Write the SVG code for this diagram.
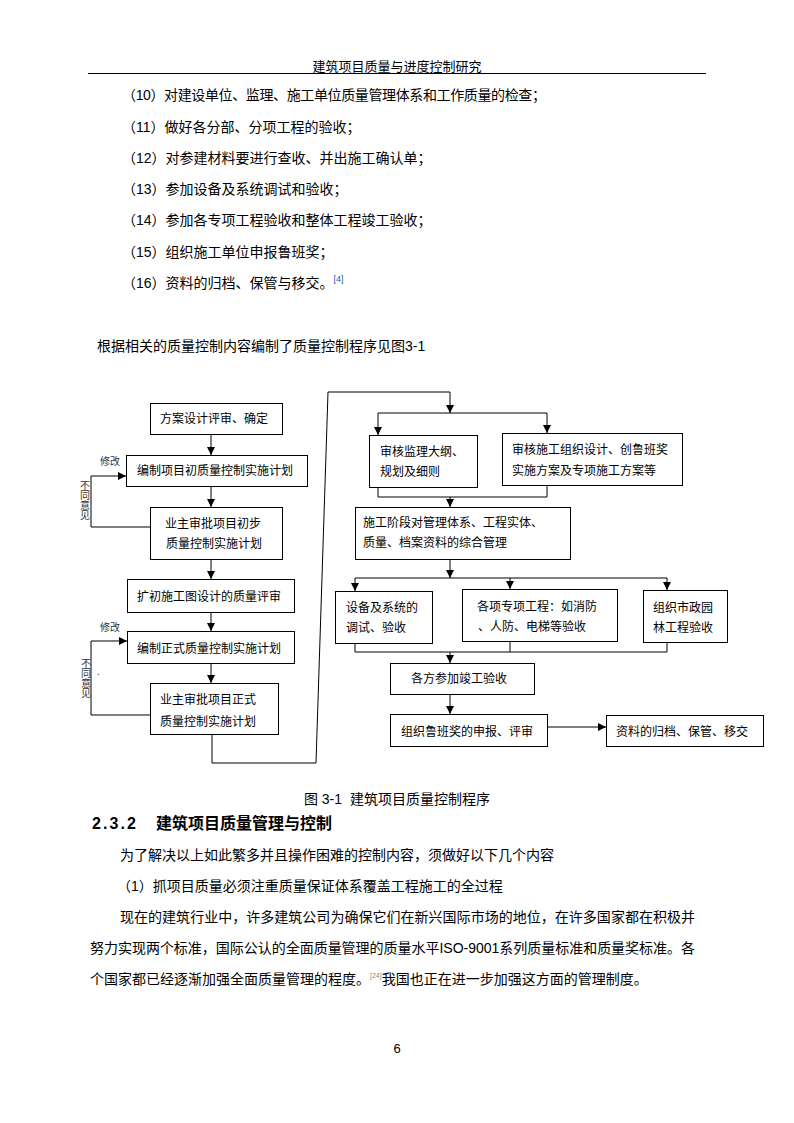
<svg xmlns="http://www.w3.org/2000/svg" width="794" height="1123" viewBox="0 0 794 1123">
<defs>
<style>
text{font-family:"Liberation Sans","Noto Sans CJK SC",sans-serif;fill:#000}
.b{font-size:14px}
.n{font-size:12px}
.s{font-size:10px;fill:#333}
.box{fill:#fff;stroke:#000;stroke-width:1}
.ln{fill:none;stroke:#000;stroke-width:1}
</style>
<marker id="ar" markerUnits="userSpaceOnUse" markerWidth="10" markerHeight="10" refX="8" refY="4" orient="auto">
<path d="M0,0 L8,4 L0,8 Z" fill="#000"/>
</marker>
</defs>
<rect width="794" height="1123" fill="#fff"/>
<text x="397" y="71" font-size="13" text-anchor="middle">建筑项目质量与进度控制研究</text>
<line x1="88" y1="73.5" x2="706" y2="73.5" stroke="#000" stroke-width="1"/>
<text class="b" x="122" y="100" textLength="424">（10）对建设单位、监理、施工单位质量管理体系和工作质量的检查；</text>
<text class="b" x="122" y="132">（11）做好各分部、分项工程的验收；</text>
<text class="b" x="122" y="163">（12）对参建材料要进行查收、并出施工确认单；</text>
<text class="b" x="122" y="194">（13）参加设备及系统调试和验收；</text>
<text class="b" x="122" y="225">（14）参加各专项工程验收和整体工程竣工验收；</text>
<text class="b" x="122" y="257">（15）组织施工单位申报鲁班奖；</text>
<text class="b" x="122" y="288">（16）资料的归档、保管与移交。<tspan font-size="9" fill="#1a5fb4" dy="-6">[4]</tspan></text>
<text class="b" x="97" y="351">根据相关的质量控制内容编制了质量控制程序见图3-1</text>
<g id="connectors">
<line class="ln" x1="211" y1="434" x2="211" y2="455" marker-end="url(#ar)"/>
<line class="ln" x1="211" y1="486" x2="211" y2="507" marker-end="url(#ar)"/>
<line class="ln" x1="211" y1="559" x2="211" y2="579" marker-end="url(#ar)"/>
<line class="ln" x1="211" y1="612" x2="211" y2="631" marker-end="url(#ar)"/>
<line class="ln" x1="211" y1="663" x2="211" y2="683" marker-end="url(#ar)"/>
<polyline class="ln" points="150,527 91,527 91,476 126,476" marker-end="url(#ar)"/>
<polyline class="ln" points="150,715 91,715 91,641 127,641" marker-end="url(#ar)"/>
<polyline class="ln" points="212,734 212,763 316,763 328,392 450,392 450,413" marker-end="url(#ar)"/>
<line class="ln" x1="378" y1="413" x2="547" y2="413"/>
<line class="ln" x1="378" y1="413" x2="378" y2="435" marker-end="url(#ar)"/>
<line class="ln" x1="547" y1="413" x2="547" y2="433" marker-end="url(#ar)"/>
<polyline class="ln" points="378,487 378,497 547,497 547,485"/>
<line class="ln" x1="450" y1="497" x2="450" y2="507" marker-end="url(#ar)"/>
<line class="ln" x1="450" y1="559" x2="450" y2="578" marker-end="url(#ar)"/>
<line class="ln" x1="355" y1="578" x2="667" y2="578"/>
<line class="ln" x1="355" y1="578" x2="355" y2="591" marker-end="url(#ar)"/>
<line class="ln" x1="510" y1="578" x2="510" y2="589" marker-end="url(#ar)"/>
<line class="ln" x1="667" y1="578" x2="667" y2="590" marker-end="url(#ar)"/>
<polyline class="ln" points="355,643 355,652 667,652 667,642"/>
<line class="ln" x1="510" y1="641" x2="510" y2="652"/>
<line class="ln" x1="450" y1="652" x2="450" y2="663" marker-end="url(#ar)"/>
<line class="ln" x1="450" y1="694" x2="450" y2="714" marker-end="url(#ar)"/>
<line class="ln" x1="547" y1="727" x2="606" y2="727" marker-end="url(#ar)"/>
</g>
<g id="n1"><rect class="box" x="150.5" y="403.5" width="132" height="31"/><text class="n" x="160" y="423">方案设计评审、确定</text></g>
<g id="n2"><rect class="box" x="126.5" y="455.5" width="181" height="31"/><text class="n" x="137" y="475">编制项目初质量控制实施计划</text></g>
<g id="n3"><rect class="box" x="150.5" y="507.5" width="132" height="52"/><text class="n" x="165" y="528">业主审批项目初步</text><text class="n" x="166" y="548">质量控制实施计划</text></g>
<g id="n4"><rect class="box" x="127.5" y="579.5" width="167" height="33"/><text class="n" x="137" y="601">扩初施工图设计的质量评审</text></g>
<g id="n5"><rect class="box" x="127.5" y="631.5" width="167" height="32"/><text class="n" x="137" y="653">编制正式质量控制实施计划</text></g>
<g id="n6"><rect class="box" x="150.5" y="683.5" width="128" height="51"/><text class="n" x="160" y="704">业主审批项目正式</text><text class="n" x="160" y="726">质量控制实施计划</text></g>
<g id="lbl">
<text class="s" x="100" y="465">修改</text>
<text class="s" x="100" y="631">修改</text>
<text class="s" x="80" y="489">不</text><text class="s" x="80" y="499">同</text><text class="s" x="80" y="509">意</text><text class="s" x="80" y="519">见</text>
<text class="s" x="81" y="667">不</text><text class="s" x="81" y="677">同</text><text class="s" x="81" y="687">意</text><text class="s" x="81" y="697">见</text>
<text class="s" x="97" y="675">.</text>
</g>
<g id="n7"><rect class="box" x="369.5" y="435.5" width="108" height="52"/><text class="n" x="380" y="456">审核监理大纲、</text><text class="n" x="380" y="476">规划及细则</text></g>
<g id="n8"><rect class="box" x="502.5" y="433.5" width="180" height="52"/><text class="n" x="512" y="454">审核施工组织设计、创鲁班奖</text><text class="n" x="512" y="475">实施方案及专项施工方案等</text></g>
<g id="n9"><rect class="box" x="355.5" y="507.5" width="215" height="52"/><text class="n" x="363" y="527">施工阶段对管理体系、工程实体、</text><text class="n" x="363" y="547">质量、档案资料的综合管理</text></g>
<g id="n10"><rect class="box" x="335.5" y="591.5" width="97" height="52"/><text class="n" x="346" y="612">设备及系统的</text><text class="n" x="346" y="632">调试、验收</text></g>
<g id="n11"><rect class="box" x="462.5" y="589.5" width="155" height="52"/><text class="n" x="477" y="611">各项专项工程：如消防</text><text class="n" x="478" y="631">、人防、电梯等验收</text></g>
<g id="n12"><rect class="box" x="643.5" y="590.5" width="84" height="52"/><text class="n" x="653" y="612">组织市政园</text><text class="n" x="653" y="632">林工程验收</text></g>
<g id="n13"><rect class="box" x="390.5" y="663.5" width="144" height="31"/><text class="n" x="411" y="683">各方参加竣工验收</text></g>
<g id="n14"><rect class="box" x="390.5" y="714.5" width="157" height="32"/><text class="n" x="401" y="736">组织鲁班奖的申报、评审</text></g>
<g id="n15"><rect class="box" x="606.5" y="715.5" width="157" height="31"/><text class="n" x="616" y="736">资料的归档、保管、移交</text></g>
<text x="304" y="804" font-size="14" font-family="Liberation Serif,Noto Sans CJK SC,serif" textLength="38">图 3-1</text>
<text x="350" y="804" font-size="14" font-family="Liberation Serif,Noto Sans CJK SC,serif">建筑项目质量控制程序</text>
<text x="92" y="829" font-size="16" font-weight="bold" font-family="Liberation Mono,Noto Sans CJK SC,monospace" textLength="44">2.3.2</text>
<text x="156" y="829" font-size="16" font-weight="bold">建筑项目质量管理与控制</text>
<text class="b" x="120" y="860">为了解决以上如此繁多并且操作困难的控制内容，须做好以下几个内容</text>
<text class="b" x="117" y="891">（1）抓项目质量必须注重质量保证体系覆盖工程施工的全过程</text>
<text class="b" x="120" y="922" textLength="575">现在的建筑行业中，许多建筑公司为确保它们在新兴国际市场的地位，在许多国家都在积极并</text>
<text class="b" x="90" y="953" textLength="605">努力实现两个标准，国际公认的全面质量管理的质量水平ISO-9001系列质量标准和质量奖标准。各</text>
<text class="b" x="90" y="984">个国家都已经逐渐加强全面质量管理的程度。<tspan font-size="7" fill="#888" dy="-6">[24]</tspan><tspan dy="6">我国也正在进一步加强这方面的管理制度。</tspan></text>
<text x="397" y="1053" font-size="13" text-anchor="middle">6</text>
</svg>
